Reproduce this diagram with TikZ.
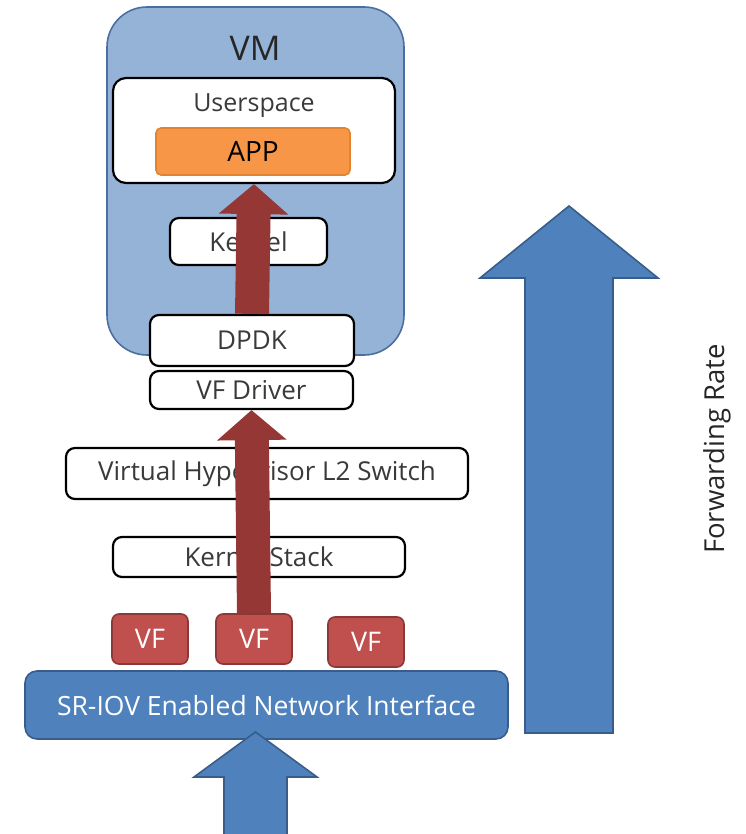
\documentclass[tikz,border=0pt]{standalone}
\usepackage{fontspec}
\setmainfont{Open Sans}
\usetikzlibrary{arrows.meta}
\usetikzlibrary{positioning}

\definecolor{vmblue}{HTML}{95B3D7}
\definecolor{vmline}{HTML}{4A6E9E}
\definecolor{nicblue}{HTML}{4F81BD}
\definecolor{nicline}{HTML}{385D8A}
\definecolor{vfred}{HTML}{C0504D}
\definecolor{vfline}{HTML}{8C3836}
\definecolor{pathred}{HTML}{953735}
\definecolor{apporange}{HTML}{F79646}
\definecolor{appline}{HTML}{E0842F}
\definecolor{txtgray}{HTML}{3A3A3A}

\begin{document}
\begin{tikzpicture}[
    x=1pt, y={(0pt,-1pt)},
    layer/.style={
        rectangle,
        rounded corners=9pt,
        draw=black,
        line width=2.2pt,
        fill=white,
        text=txtgray,
        font=\fontsize{26}{30}\selectfont
    },
    vfbox/.style={
        rectangle,
        rounded corners=7pt,
        draw=vfline,
        line width=1.6pt,
        fill=vfred,
        text=white,
        minimum width=76pt,
        minimum height=50pt,
        font=\fontsize{27}{30}\selectfont
    },
    fatpath/.style={
        draw=pathred,
        line width=34pt,
        -{Triangle[length=30pt,width=68pt,color=pathred]}
    },
    bigarrow/.style={
        fill=nicblue,
        draw=nicline,
        line width=1.6pt,
        line join=miter
    }
]
\useasboundingbox (0,0) rectangle (745,834);

% virtual machine
\node [rectangle, rounded corners=40pt, draw=vmline, line width=1.6pt, fill=vmblue,
       minimum width=297pt, minimum height=348pt] (vm) at (255.5,181) {};
\node [font=\fontsize{34}{38}\selectfont, text=black!85] (vmlabel) at (255,48) {VM};

\node [layer, rounded corners=13pt, minimum width=282pt, minimum height=105pt] (user) at (254,130.5) {};
\node [font=\fontsize{25}{29}\selectfont, text=txtgray] (userlabel) at (254,106) {Userspace};
\node [rectangle, rounded corners=5pt, draw=appline, line width=1.6pt, fill=apporange,
       minimum width=194pt, minimum height=47pt, font=\fontsize{28}{32}\selectfont] (app) at (253,151.5) {APP};

\node [layer, minimum width=157pt, minimum height=47pt] (kernel) at (248.5,241.5) {Kernel};
\node [layer, minimum width=204pt, minimum height=51pt] (dpdk) at (252,340.5) {DPDK};
\node [layer, minimum width=203pt, minimum height=38pt] (vfdrv) at (251.5,390) {VF Driver};

% host side
\node [layer, minimum width=402pt, minimum height=51pt] (l2sw) at (267,473.5) {Virtual Hypervisor L2 Switch};
\node [layer, minimum width=292pt, minimum height=40pt] (kstack) at (259,557) {Kernel Stack};

\node [vfbox] (vf1) at (150,639) {VF};
\node [vfbox] (vf2) at (254,639) {VF};
\node [vfbox] (vf3) at (366,642) {VF};

\node [rectangle, rounded corners=12pt, draw=nicline, line width=1.6pt, fill=nicblue,
       minimum width=483pt, minimum height=68pt, text=white,
       font=\fontsize{26.5}{30}\selectfont] (nic) at (266.5,705) {SR-IOV Enabled Network Interface};

% packet path
\draw[fatpath] (vf2.north) -- (vfdrv.south);
\draw[fatpath] (dpdk.north) -- (user.south);

% incoming traffic
\coordinate (inTip) at (255.5,732);
\draw[bigarrow] (inTip) -- ++(61.5,45) -- ++(-30,0) -- ++(0,60) -- ++(-63,0)
    -- ++(0,-60) -- ++(-30,0) -- cycle;

% forwarding rate
\coordinate (rateTip) at (569,206);
\draw[bigarrow] (rateTip) -- ++(89,72) -- ++(-45,0) -- ++(0,455) -- ++(-88,0)
    -- ++(0,-455) -- ++(-45,0) -- cycle;
\node [rotate=90, font=\fontsize{27.5}{31}\selectfont, text=black!85] (rate) at (717,449) {Forwarding Rate};
\end{tikzpicture}
\end{document}
